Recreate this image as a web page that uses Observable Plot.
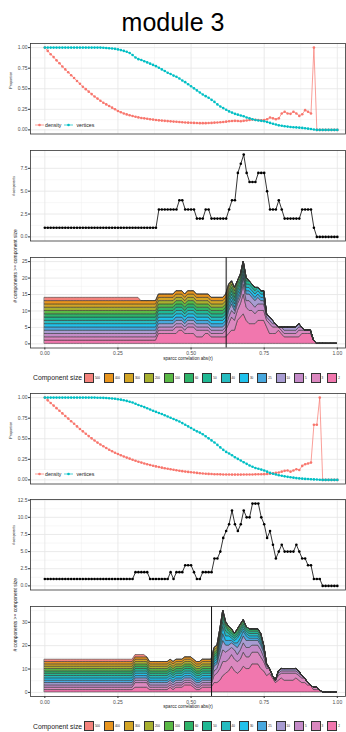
<!DOCTYPE html>
<html>
<head>
<meta charset="utf-8">
<script src="https://cdn.jsdelivr.net/npm/d3@7"></script>
<script src="https://cdn.jsdelivr.net/npm/@observablehq/plot@0.6"></script>
<style>
  html, body { margin: 0; padding: 0; background: #fff; }
  #figure { position: relative; width: 346px; height: 732px; overflow: hidden; font-family: "Liberation Sans", Arial, sans-serif; }
  #figure > * { position: absolute; }
  .title { left: 0; width: 346px; text-align: center; font-size: 25px; line-height: 25px; color: #000; }
  .size-legend { left: 33px; display: flex; align-items: center; height: 10px; }
  .size-legend .name { font-size: 6.8px; color: #1a1a1a; margin-right: 2px; white-space: nowrap; }
  .size-legend .key { width: 10px; height: 10px; box-sizing: border-box; border: 0.6px solid #333; flex: none; }
  .size-legend .lab { font-size: 3px; color: #1a1a1a; margin: 0 4.2px 0 0.8px; white-space: nowrap; }
  .size-legend .lab:last-child { margin-right: 0; }
  .line-legend { display: flex; align-items: center; background: #fff; height: 8px; font-size: 5.2px; color: #1a1a1a; padding: 0 1px; }
  .line-legend svg { display: block; }
</style>
</head>
<body>
<div id="figure"></div>
<script>
// correlation cutoffs swept from 0 to 1 in steps of 0.01
const cutoff = d3.range(101).map(i => i / 100);

// ---- first network ----
const density1 = [
  1.0, 0.96, 0.92, 0.885, 0.845, 0.81, 0.77, 0.735, 0.70, 0.665,
  0.63, 0.595, 0.56, 0.525, 0.495, 0.465, 0.435, 0.405, 0.38, 0.355,
  0.33, 0.31, 0.29, 0.27, 0.25, 0.23, 0.215, 0.2, 0.188, 0.178,
  0.168, 0.16, 0.152, 0.145, 0.14, 0.135, 0.13, 0.125, 0.12, 0.116,
  0.113, 0.11, 0.107, 0.104, 0.101, 0.098, 0.095, 0.092, 0.09, 0.088,
  0.086, 0.085, 0.083, 0.082, 0.082, 0.082, 0.083, 0.085, 0.088, 0.09,
  0.092, 0.095, 0.1, 0.105, 0.108, 0.11, 0.108, 0.105, 0.11, 0.115,
  0.12, 0.125, 0.122, 0.12, 0.118, 0.12, 0.13, 0.15, 0.14, 0.13,
  0.14, 0.2, 0.22, 0.2, 0.195, 0.22, 0.2, 0.17, 0.19, 0.24,
  0.22, 0.2, 1.0, 0, 0, 0, 0, 0, 0, 0,
  0
];
const vertices1 = [
  1, 1, 1, 1, 1, 1, 1, 1, 1, 1,
  1, 1, 1, 1, 1, 1, 1, 1, 1, 1,
  0.998, 0.996, 0.993, 0.99, 0.985, 0.978, 0.97, 0.96, 0.95, 0.935,
  0.91, 0.88, 0.86, 0.85, 0.835, 0.82, 0.805, 0.79, 0.775, 0.755,
  0.735, 0.715, 0.695, 0.68, 0.66, 0.645, 0.625, 0.6, 0.58, 0.555,
  0.53, 0.505, 0.48, 0.455, 0.43, 0.41, 0.39, 0.365, 0.34, 0.31,
  0.285, 0.265, 0.245, 0.225, 0.21, 0.195, 0.185, 0.175, 0.165, 0.15,
  0.14, 0.13, 0.12, 0.115, 0.11, 0.105, 0.095, 0.085, 0.075, 0.065,
  0.055, 0.05, 0.045, 0.04, 0.035, 0.032, 0.03, 0.027, 0.024, 0.02,
  0.015, 0.01, 0.004, 0, 0, 0, 0, 0, 0, 0,
  0
];
const ncomp1 = [
  1, 1, 1, 1, 1, 1, 1, 1, 1, 1,
  1, 1, 1, 1, 1, 1, 1, 1, 1, 1,
  1, 1, 1, 1, 1, 1, 1, 1, 1, 1,
  1, 1, 1, 1, 1, 1, 1, 1, 1, 3,
  3, 3, 3, 3, 3, 3, 4, 4, 3, 3,
  3, 3, 2, 2, 2, 3, 3, 2, 2, 2,
  2, 2, 2, 3, 4, 4, 7, 8, 9, 7,
  6, 6, 6, 7, 7, 7, 5, 3, 3, 3,
  4, 3, 2, 2, 2, 2, 2, 2, 3, 3,
  3, 3, 1, 0, 0, 0, 0, 0, 0, 0,
  0
];
// sizes of the connected components at each cutoff
const sizes1 = [
  "520", "520", "520", "520", "520", "520", "520", "520", "520", "520",
  "520", "520", "520", "520", "520", "520", "520", "520", "520", "520",
  "520", "520", "520", "520", "520", "520", "520", "520", "520", "520",
  "520", "520", "520", "480", "480", "480", "480", "480", "480", "470 2 2",
  "470 2 2", "470 2 2", "470 2 2", "470 2 2", "470 2 2", "470 3 2", "460 2 2 2", "460 2 2 2", "460 2 2", "455 3 2",
  "455 3 2", "455 3 2", "450 3", "450 3", "450 3", "445 2 2", "445 2 2", "440 2", "440 2", "440 2",
  "440 2", "440 2", "420 3", "350 12 3", "250 12 3 3", "250 6 3 2", "150 6 3 2 2 2 2", "150 6 3 3 2 2 2 2", "80 12 6 3 3 3 2 2 2", "60 12 3 3 2 2 2",
  "55 12 6 3 2 2", "55 12 3 3 2 2", "50 12 3 2 2 2", "45 12 3 2 2 2 2", "45 6 3 2 2 2 2", "40 6 3 2 2 2 2", "12 3 2 2 2", "12 3 3", "12 3 2", "6 3 2",
  "3 2 2 2", "6 2 2", "12 2", "12 2", "12 2", "12 2", "12 2", "12 3", "6 2 2", "3 2 2",
  "3 2 2", "3 2 2", "2", "", "", "", "", "", "", "",
  ""
];

// ---- second network ----
const density2 = [
  1.0, 0.967, 0.935, 0.903, 0.872, 0.84, 0.808, 0.776, 0.745, 0.713,
  0.683, 0.65, 0.618, 0.59, 0.56, 0.532, 0.505, 0.478, 0.453, 0.43,
  0.408, 0.387, 0.367, 0.348, 0.33, 0.314, 0.299, 0.285, 0.271, 0.258,
  0.245, 0.233, 0.221, 0.21, 0.2, 0.19, 0.181, 0.172, 0.164, 0.156,
  0.149, 0.142, 0.135, 0.129, 0.123, 0.117, 0.111, 0.106, 0.101, 0.097,
  0.093, 0.089, 0.085, 0.081, 0.078, 0.075, 0.073, 0.071, 0.069, 0.068,
  0.067, 0.066, 0.065, 0.065, 0.064, 0.064, 0.064, 0.064, 0.065, 0.065,
  0.066, 0.066, 0.067, 0.068, 0.069, 0.07, 0.072, 0.075, 0.08, 0.085,
  0.09, 0.1, 0.11, 0.115, 0.1, 0.115, 0.13, 0.12, 0.17, 0.19,
  0.2, 0.21, 0.67, 0.67, 1.0, 0, 0, 0, 0, 0,
  0
];
const vertices2 = [
  1, 1, 1, 1, 1, 1, 1, 1, 1, 1,
  1, 1, 1, 1, 1, 1, 1, 1, 0.999, 0.998,
  0.997, 0.995, 0.993, 0.99, 0.986, 0.98, 0.975, 0.968, 0.96, 0.95,
  0.94, 0.925, 0.91, 0.898, 0.885, 0.87, 0.855, 0.84, 0.827, 0.813,
  0.8, 0.785, 0.77, 0.755, 0.74, 0.725, 0.71, 0.69, 0.67, 0.65,
  0.63, 0.61, 0.59, 0.575, 0.555, 0.53, 0.505, 0.48, 0.455, 0.425,
  0.395, 0.365, 0.34, 0.32, 0.3, 0.275, 0.255, 0.235, 0.215, 0.195,
  0.175, 0.16, 0.145, 0.135, 0.125, 0.115, 0.1, 0.085, 0.075, 0.065,
  0.057, 0.05, 0.043, 0.037, 0.032, 0.027, 0.022, 0.018, 0.015, 0.012,
  0.01, 0.008, 0.006, 0.004, 0.002, 0, 0, 0, 0, 0,
  0
];
const ncomp2 = [
  1, 1, 1, 1, 1, 1, 1, 1, 1, 1,
  1, 1, 1, 1, 1, 1, 1, 1, 1, 1,
  1, 1, 1, 1, 1, 1, 1, 1, 1, 1,
  1, 2, 2, 2, 2, 2, 1, 1, 1, 1,
  1, 1, 1, 2, 1, 2, 2, 2, 3, 3,
  3, 2, 1, 1, 2, 2, 2, 2, 4, 4,
  5, 7, 8, 9, 11, 9, 8, 9, 11, 10,
  10, 12, 12, 12, 10, 9, 7, 8, 6, 4,
  5, 6, 5, 5, 5, 5, 6, 5, 4, 4,
  3, 3, 1, 1, 1, 0, 0, 0, 0, 0,
  0
];
const sizes2 = [
  "560", "560", "560", "560", "560", "560", "560", "560", "560", "560",
  "560", "560", "560", "560", "560", "560", "560", "560", "560", "560",
  "560", "560", "560", "560", "560", "560", "560", "560", "560", "560",
  "560", "540 3", "540 3", "540 3", "540 3", "480 3", "470", "470", "470", "470",
  "470", "470", "470", "465 2", "465", "460 2", "460 2", "460 2", "455 2 2", "455 2 2",
  "455 2 2", "450 2", "440", "440", "430 2", "430 2", "430 2", "430 2", "350 12 3 2", "320 12 3 3",
  "210 45 12 6 3", "150 80 35 12 6 3 2", "120 55 12 6 3 2 2 2", "110 30 6 6 3 2 2 2 2", "100 12 6 3 3 2 2 2 2 2 2",
  "90 12 6 6 3 2 2 2 2", "100 30 12 3 3 2 2 2", "100 30 12 6 3 2 2 2 2", "100 25 12 6 3 3 2 2 2 2 2", "90 25 12 6 3 2 2 2 2 2",
  "80 12 12 6 3 2 2 2 2 2", "70 12 6 3 3 2 2 2 2 2 2 2", "70 12 6 3 3 2 2 2 2 2 2 2", "60 12 6 3 3 2 2 2 2 2 2 2", "60 12 6 3 3 2 2 2 2 2",
  "40 12 3 3 2 2 2 2 2", "12 3 3 2 2 2 2", "3 3 2 2 2 2 2 2", "3 2 2 2 2 2", "3 2 2 2",
  "12 3 2 2 2", "12 3 2 2 2 2", "12 3 3 2 2", "12 3 3 2 2", "12 3 3 2 2", "12 3 3 2 2", "12 3 2 2 2 2", "12 3 2 2 2", "6 3 2 2", "3 3 2 2",
  "3 2 2", "2 2 2", "3", "3", "2", "", "", "", "", "",
  ""
];

// component-size thresholds and their fills
const sizeLevels = [500, 400, 300, 200, 100, 60, 50, 40, 30, 25, 10, 5, 3, 2];
const sizeColors = ["#f4837d", "#e8951f", "#d3a526", "#a8b030", "#5ab946", "#2fb46a", "#20b994",
                    "#26bcc0", "#20c1ec", "#49a8de", "#a89cd2", "#c48bc8", "#db88bf", "#f177ae"];

const seriesNames = ["density", "vertices"];
const seriesColors = ["#F8766D", "#00BFC4"];
const cutLines = [0.62, 0.57];

const xMajor = [0, 0.25, 0.5, 0.75, 1];
const xMinor = [0.125, 0.375, 0.625, 0.875];
const xDomain = [-0.049, 1.028];

const fig = document.getElementById("figure");

function place(node, top) {
  node.style.top = top + "px";
  node.style.left = "0px";
  fig.appendChild(node);
}

function panel({top, boxH, mb = 0, yDomain, yMajor, yMinor, yFormat, yTitle, yTitleSize, yTitleDx, marks, xAxis = false}) {
  const extra = xAxis ? [
    Plot.axisX({ticks: xMajor, tickSize: 2, tickPadding: 1.5, tickFormat: d3.format(".2f"), fontSize: 5, label: null, stroke: "#333"}),
    Plot.text(["sparcc correlation abs(r)"], {text: d => d, frameAnchor: "bottom", dy: 11.5, fontSize: 4.6, fill: "#1a1a1a"})
  ] : [];
  const svg = Plot.plot({
    width: 346,
    height: boxH + 1 + mb,
    marginTop: 1, marginBottom: mb, marginLeft: 30, marginRight: 1,
    x: {domain: xDomain, axis: xAxis ? undefined : null},
    y: {domain: yDomain},
    color: {domain: sizeLevels.map(String), range: sizeColors},
    style: {fontFamily: "'Liberation Sans', Arial, sans-serif", fontSize: "5px", color: "#4d4d4d", background: "transparent", overflow: "visible"},
    marks: [
      Plot.ruleX(xMinor, {stroke: "#ececec", strokeWidth: 0.45}),
      Plot.ruleY(yMinor, {stroke: "#ececec", strokeWidth: 0.45}),
      Plot.ruleX(xMajor, {stroke: "#e6e6e6", strokeWidth: 0.85}),
      Plot.ruleY(yMajor, {stroke: "#e6e6e6", strokeWidth: 0.85}),
      ...marks,
      Plot.axisY({ticks: yMajor, tickSize: 2, tickPadding: 1, tickFormat: yFormat, fontSize: 5, label: null, stroke: "#333"}),
      ...extra,
      Plot.text([yTitle], {text: d => d, frameAnchor: "left", dx: yTitleDx, rotate: -90, fontSize: yTitleSize, fill: "#1a1a1a"}),
      Plot.frame({stroke: "#333", strokeWidth: 0.8})
    ]
  });
  place(svg, top - 1);
}

function proportionPanel(top, density, vertices) {
  const rows = [density, vertices].map(v => cutoff.map((x, i) => ({x, value: v[i]})));
  const marks = [];
  rows.forEach((r, k) => {
    marks.push(Plot.line(r, {x: "x", y: "value", stroke: seriesColors[k], strokeWidth: 0.7}));
    marks.push(Plot.dot(r, {x: "x", y: "value", fill: seriesColors[k], r: 1.3}));
  });
  panel({top, boxH: 90.5, yDomain: [-0.05, 1.05], yMajor: [0, 0.25, 0.5, 0.75, 1], yMinor: [0.125, 0.375, 0.625, 0.875],
         yFormat: d3.format(".2f"), yTitle: "Proportion", yTitleSize: 3.7, yTitleDx: -20, marks});

  // key for the two series, inside the lower-left corner
  const lg = document.createElement("div");
  lg.className = "line-legend";
  seriesNames.forEach((name, k) => {
    const s = d3.create("svg").attr("width", 9).attr("height", 6);
    s.append("line").attr("x1", 0).attr("x2", 9).attr("y1", 3).attr("y2", 3).attr("stroke", seriesColors[k]).attr("stroke-width", 0.7);
    s.append("circle").attr("cx", 4.5).attr("cy", 3).attr("r", 1.3).attr("fill", seriesColors[k]);
    lg.appendChild(s.node());
    const t = document.createElement("span");
    t.textContent = name;
    t.style.margin = k === 0 ? "0 3px 0 1.5px" : "0 0 0 3px";
    lg.appendChild(t);
  });
  fig.appendChild(lg);
  lg.style.top = (top + 77.5) + "px";
  lg.style.left = "33.5px";
}

function componentPanel(top, ncomp, yMax, yMajor, yMinor) {
  const rows = cutoff.map((x, i) => ({x, n: ncomp[i]}));
  const pad = yMax * 0.05;
  panel({top, boxH: 90.5, yDomain: [-pad, yMax + pad], yMajor, yMinor, yFormat: d3.format(".1f"),
         yTitle: "# components", yTitleSize: 3.1, yTitleDx: -17,
         marks: [
           Plot.line(rows, {x: "x", y: "n", stroke: "#000", strokeWidth: 0.8}),
           Plot.dot(rows, {x: "x", y: "n", fill: "#000", r: 1.3})
         ]});
}

function stackPanel(top, boxH, sizes, yMax, yMajor, yMinor, cut) {
  const ascending = sizeLevels.slice().reverse();
  const rows = [];
  sizes.forEach((s, i) => {
    const comps = s === "" ? [] : s.split(" ").map(Number);
    for (const t of ascending) rows.push({x: cutoff[i], level: String(t), count: comps.filter(c => c >= t).length});
  });
  const pad = yMax * 0.05;
  panel({top, boxH, mb: 17, yDomain: [-pad, yMax + pad], yMajor, yMinor, yFormat: d3.format("d"),
         yTitle: "# components >= component size", yTitleSize: 4.9, yTitleDx: -15, xAxis: true,
         marks: [
           Plot.areaY(rows, {x: "x", y: "count", z: "level", fill: "level", stroke: "#333", strokeWidth: 0.55}),
           Plot.ruleX([cut], {stroke: "#111", strokeWidth: 1})
         ]});
}

function sizeLegend(top) {
  const lg = document.createElement("div");
  lg.className = "size-legend";
  const name = document.createElement("span");
  name.className = "name";
  name.textContent = "Component size";
  lg.appendChild(name);
  sizeLevels.forEach((lvl, k) => {
    const key = document.createElement("span");
    key.className = "key";
    key.style.background = sizeColors[k];
    lg.appendChild(key);
    const lab = document.createElement("span");
    lab.className = "lab";
    lab.textContent = lvl;
    lg.appendChild(lab);
  });
  fig.appendChild(lg);
  lg.style.top = top + "px";
}

// title
const title = document.createElement("div");
title.className = "title";
title.textContent = "module 3";
fig.appendChild(title);
title.style.top = "9.5px";

// first network
proportionPanel(43, density1, vertices1);
componentPanel(150.3, ncomp1, 9, [0, 2.5, 5, 7.5], [1.25, 3.75, 6.25, 8.75]);
stackPanel(256.5, 90.5, sizes1, 25, [0, 5, 10, 15, 20, 25], [2.5, 7.5, 12.5, 17.5, 22.5], cutLines[0]);
sizeLegend(372.7);

// second network
proportionPanel(392.6, density2, vertices2);
componentPanel(499.4, ncomp2, 12, [0, 2.5, 5, 7.5, 10, 12.5], [1.25, 3.75, 6.25, 8.75, 11.25]);
stackPanel(606, 90, sizes2, 35, [0, 10, 20, 30], [5, 15, 25, 35], cutLines[1]);
sizeLegend(721);
</script>
</body>
</html>
